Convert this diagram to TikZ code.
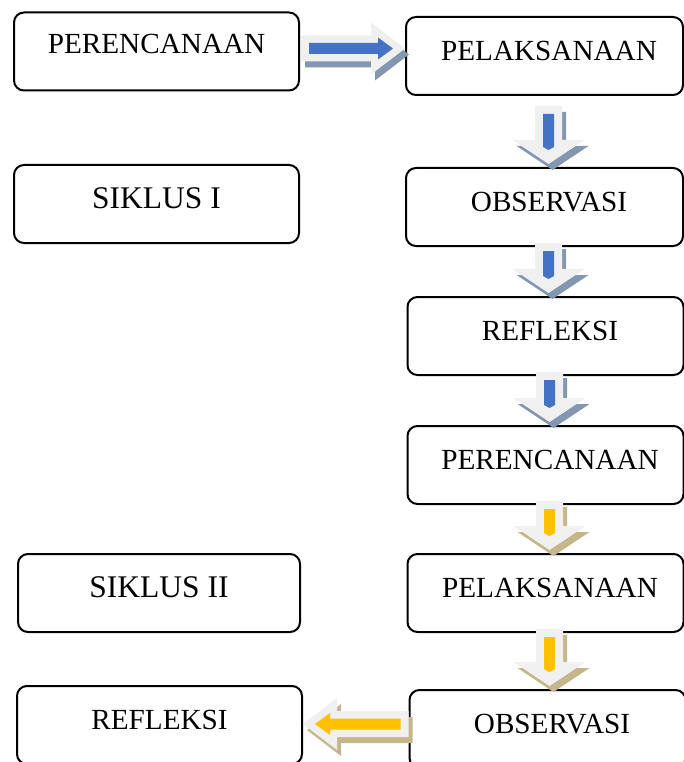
\documentclass[tikz,border=0pt]{standalone}
\usepackage{fontspec}
\setmainfont{Liberation Serif}
\usetikzlibrary{calc,positioning}

\definecolor{arrowfill}{HTML}{F0F0F0}
\definecolor{blueshade}{HTML}{8497B0}
\definecolor{tanshade}{HTML}{C6B68C}
\definecolor{barblue}{HTML}{4472C4}
\definecolor{bargold}{HTML}{FFC000}

% block arrow pointing down, from the bottom of #2 to the top of #3
\newcommand{\blockdown}[5][-4]{%
  \coordinate (s) at ($(#2.south)+(4,#1)$);
  \coordinate (t) at ($(s |- #3.north)+(0,-3)$);
  \foreach \dx/\dy/\col in {4/6/#5, 0/0/arrowfill} {
    \fill[\col] ($(s)+({\dx-13.5},\dy)$) -- ($(t)+({\dx-13.5},{\dy-24})$)
      -- ($(t)+({\dx-36},{\dy-24})$) -- ($(t)+(\dx,\dy)$)
      -- ($(t)+({\dx+36},{\dy-24})$) -- ($(t)+({\dx+13.5},{\dy-24})$)
      -- ($(s)+({\dx+13.5},\dy)$) -- cycle;
  }
  \fill[#4] ($(s)+(-5.5,8)$) -- ($(t)+(-5.5,-17)$) -- ($(t)+(0,-14)$)
    -- ($(t)+(5.5,-17)$) -- ($(s)+(5.5,8)$) -- cycle;
}

% block arrow sideways, from point #1 to the anchor #2, #3 = 1 right / -1 left
\newcommand{\blockside}[5]{%
  \coordinate (s) at (#1);
  \coordinate (t) at (s -| #2);
  \foreach \dx/\dy/\col in {4/6/#5, 0/0/arrowfill} {
    \fill[\col] ($(s)+(\dx,{\dy-13})$) -- ($(t)+({\dx-34*(#3)},{\dy-13})$)
      -- ($(t)+({\dx-34*(#3)},{\dy-26})$) -- ($(t)+(\dx,\dy)$)
      -- ($(t)+({\dx-34*(#3)},{\dy+26})$) -- ($(t)+({\dx-34*(#3)},{\dy+13})$)
      -- ($(s)+(\dx,{\dy+13})$) -- cycle;
  }
  \fill[#4] ($(s)+({8*(#3)},-5.5)$) -- ($(t)+({-27*(#3)},-5.5)$)
    -- ($(t)+({-27*(#3)},-11)$) -- ($(t)+({-12*(#3)},0)$)
    -- ($(t)+({-27*(#3)},11)$) -- ($(t)+({-27*(#3)},5.5)$)
    -- ($(s)+({8*(#3)},5.5)$) -- cycle;
}

\tikzset{
  box/.style={draw, line width=2pt, rounded corners=10pt, fill=white,
    minimum width=285pt, minimum height=78pt, text height=19.5pt, text depth=10pt,
    font=\fontsize{29.2}{35}\selectfont},
  rbox/.style={box, minimum width=276pt, execute at begin node={\hspace*{9pt}}},
  cycbox/.style={box, font=\fontsize{31.5}{38}\selectfont},
}

\begin{document}
\begin{tikzpicture}[x=1pt, y=-1pt]
  \useasboundingbox (0,0) rectangle (684,762);
  \fill[white] (0,0) rectangle (684,762);
  \clip (0,0) rectangle (684,762);
  % left column
  \node[box, text depth=15pt] (per1) at (156.5,51.5) {PERENCANAAN};
  \node[cycbox] (sik1) at (156.5,204) {SIKLUS I};
  \node[cycbox, minimum width=282pt] (sik2) at (159,593) {SIKLUS II};
  \node[box] (ref2) at (159.5,725) {REFLEKSI};
  % right column
  \node[rbox, minimum width=277pt] (pel1) at (544.5,56) {PELAKSANAAN};
  \node[rbox, minimum width=277pt] (obs1) at (544.5,207) {OBSERVASI};
  \node[rbox] (ref1) at (545.5,336) {REFLEKSI};
  \node[rbox] (per2) at (545.5,465) {PERENCANAAN};
  \node[rbox] (pel2) at (545.5,593) {PELAKSANAAN};
  \node[rbox] (obs2) at (547.5,729) {OBSERVASI};
  % arrows, first cycle
  \blockside{$(per1.east)+(1,-3)$}{pel1.west}{1}{barblue}{blueshade}
  \blockdown[10]{pel1}{obs1}{barblue}{blueshade}
  \blockdown{obs1}{ref1}{barblue}{blueshade}
  \blockdown{ref1}{per2}{barblue}{blueshade}
  % arrows, second cycle
  \blockdown{per2}{pel2}{bargold}{tanshade}
  \blockdown{pel2}{obs2}{bargold}{tanshade}
  \blockside{$(obs2.west)+(0,-5)$}{ref2.east}{-1}{bargold}{tanshade}
\end{tikzpicture}
\end{document}
